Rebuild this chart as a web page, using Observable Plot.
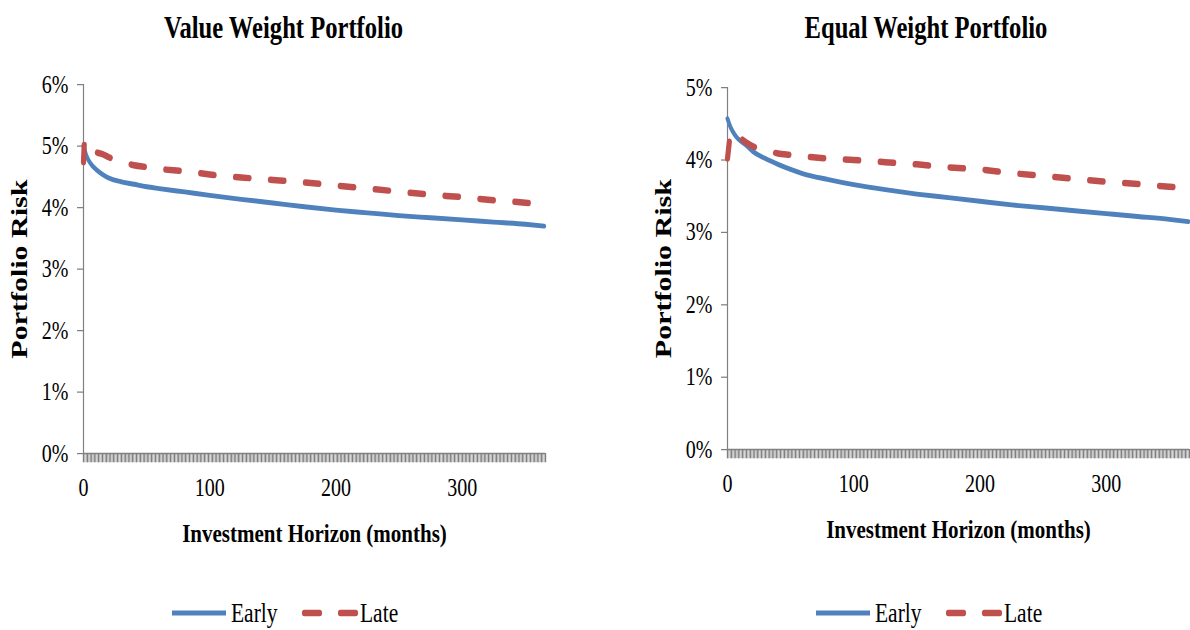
<!DOCTYPE html>
<html>
<head>
<meta charset="utf-8">
<script src="https://cdn.jsdelivr.net/npm/d3@7"></script>
<script src="https://cdn.jsdelivr.net/npm/@observablehq/plot@0.6"></script>
<style>
  html, body { margin: 0; padding: 0; background: #fff; width: 1190px; height: 630px; overflow: hidden; }
  #stage { position: relative; width: 1190px; height: 504px; transform: scaleY(1.25); transform-origin: 0 0; font-family: "Liberation Serif", "Times New Roman", serif; }
  .title { position: absolute; width: 600px; text-align: center; font-weight: bold; font-size: 24.6px; line-height: 25px; color: #000; }
  .panel { position: absolute; top: 40px; width: 556px; }
  .panel svg { max-width: none !important; }
  #legend { position: absolute; left: 0; top: 475px; }
</style>
</head>
<body>
<div id="stage"></div>
<script>
// ---- data (percent) ----
const months = [0, 1, 2, 4, 7, 10, 15, 20, 30, 40, 50, 60, 80, 100, 125, 150, 175, 200, 225, 250, 275, 300, 325, 350, 365];
const vwEarly = [5.00, 4.93, 4.86, 4.77, 4.68, 4.62, 4.54, 4.48, 4.42, 4.38, 4.34, 4.31, 4.255, 4.20, 4.135, 4.075, 4.015, 3.96, 3.915, 3.87, 3.835, 3.80, 3.765, 3.73, 3.70];
const vwLate  = [4.74, 5.10, 5.05, 4.97, 4.92, 4.90, 4.87, 4.82, 4.75, 4.69, 4.66, 4.63, 4.59, 4.54, 4.49, 4.45, 4.41, 4.36, 4.31, 4.26, 4.21, 4.17, 4.12, 4.08, 4.05];
const ewEarly = [4.57, 4.52, 4.47, 4.40, 4.32, 4.27, 4.20, 4.12, 4.02, 3.94, 3.87, 3.81, 3.73, 3.66, 3.59, 3.53, 3.48, 3.43, 3.38, 3.34, 3.30, 3.26, 3.22, 3.18, 3.15];
const ewLate  = [4.02, 4.18, 4.32, 4.40, 4.36, 4.31, 4.24, 4.19, 4.14, 4.09, 4.07, 4.05, 4.02, 4.00, 3.97, 3.94, 3.90, 3.87, 3.82, 3.78, 3.74, 3.70, 3.67, 3.63, 3.61];

const titles = ["Value Weight Portfolio", "Equal Weight Portfolio"];
const seriesNames = ["Early", "Late"];
const yTicksVW = [0, 1, 2, 3, 4, 5, 6];
const yTicksEW = [0, 1, 2, 3, 4, 5];
const xTickLabels = [0, 100, 200, 300];
const xMonthTicks = d3.range(0, 367, 1);
const xMajorTicks = d3.range(0, 367, 3);

const blue = "#4F81BD", red = "#C0504D", axisGray = "#808080";

function makePanel(early, late, yMax, yTicks, marginTop, plotBottom) {
  const rows = months.map((m, i) => ({month: m, early: early[i], late: late[i]}));
  const svg = Plot.plot({
    width: 556,
    height: plotBottom - 40 + 80,
    marginLeft: 84, marginRight: 10, marginTop, marginBottom: 80,
    x: {domain: [0, 366]},
    y: {domain: [0, yMax]},
    style: {fontFamily: "'Liberation Serif', 'Times New Roman', serif", fontSize: "20px", color: "#000", background: "transparent", overflow: "visible", maxWidth: "none"},
    marks: [
      Plot.ruleX([0], {stroke: axisGray, strokeWidth: 1.2}),
      Plot.axisY({ticks: yTicks, tickFormat: d => d + "%", tickSize: 6, tickPadding: 9, stroke: axisGray, fill: "#000", fontSize: 20,
                  label: "Portfolio Risk", labelAnchor: "center", labelOffset: 74, labelArrow: "none"}),
      Plot.axisX({ticks: xMonthTicks, tickSize: 7.4, tickFormat: () => "", stroke: "#bdbdbd", strokeWidth: 1, label: null}),
      Plot.axisX({ticks: xMajorTicks, tickSize: 7.4, tickFormat: () => "", stroke: axisGray, strokeWidth: 1.4, label: null}),
      Plot.ruleY([0], {stroke: axisGray, strokeWidth: 1.2}),
      Plot.axisX({ticks: xTickLabels, tickSize: 0, tickPadding: 20, fill: "#000", fontSize: 20,
                  label: "Investment Horizon (months)", labelAnchor: "center", labelOffset: 71, labelArrow: "none"}),
      Plot.line(rows, {x: "month", y: "early", stroke: blue, strokeWidth: 3.9, curve: "monotone-x"}),
      Plot.line(rows, {x: "month", y: "late", stroke: red, strokeWidth: 5.2, strokeDasharray: "13.5,21.5", strokeLinecap: "round", curve: "monotone-x"})
    ]
  });
  svg.style.maxWidth = "none";
  d3.select(svg).selectAll('[aria-label="y-axis label"] text').attr("font-size", 24).attr("font-weight", "bold");
  d3.select(svg).selectAll('[aria-label="x-axis label"] text').attr("font-size", 21).attr("font-weight", "bold");
  return svg;
}

const stage = document.getElementById("stage");
const panels = [
  {left: -1, titleCenter: 283.5, svg: makePanel(vwEarly, vwLate, 6, yTicksVW, 27.2, 362.4)},
  {left: 643, titleCenter: 926, svg: makePanel(ewEarly, ewLate, 5, yTicksEW, 29.6, 359.2)}
];
panels.forEach((p, i) => {
  const t = document.createElement("div");
  t.className = "title";
  t.textContent = titles[i];
  t.style.left = (p.titleCenter - 300) + "px";
  t.style.top = "9.3px";
  stage.appendChild(t);
  const d = document.createElement("div");
  d.className = "panel";
  d.style.left = p.left + "px";
  d.appendChild(p.svg);
  stage.appendChild(d);
});

// legend
const lg = d3.select(stage).append("svg").attr("id", "legend").attr("width", 1190).attr("height", 30);
[0, 644].forEach(off => {
  const cy = 15.4;
  lg.append("line").attr("x1", off + 172).attr("x2", off + 226).attr("y1", cy).attr("y2", cy)
    .attr("stroke", blue).attr("stroke-width", 3.9);
  lg.append("text").attr("x", off + 231).attr("y", cy).attr("dy", "0.33em").text(seriesNames[0])
    .attr("font-family", "'Liberation Serif', serif").attr("font-size", 21.5);
  lg.append("line").attr("x1", off + 304.5).attr("x2", off + 356).attr("y1", cy).attr("y2", cy)
    .attr("stroke", red).attr("stroke-width", 5.2).attr("stroke-dasharray", "15,21").attr("stroke-linecap", "round");
  lg.append("text").attr("x", off + 360).attr("y", cy).attr("dy", "0.33em").text(seriesNames[1])
    .attr("font-family", "'Liberation Serif', serif").attr("font-size", 21.5);
});
</script>
</body>
</html>
